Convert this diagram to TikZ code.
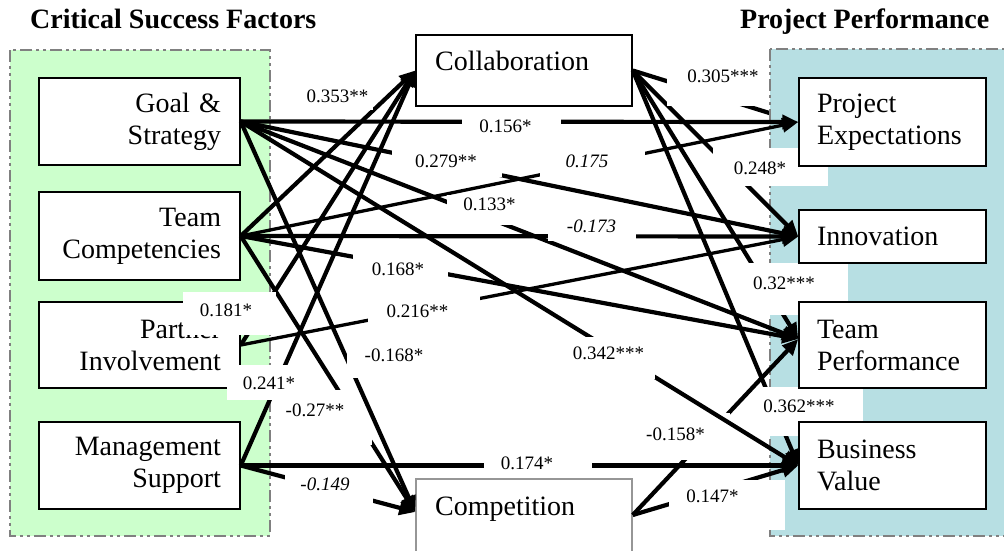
\documentclass[tikz,border=0pt]{standalone}
\usepackage{fontspec}
\setmainfont{Liberation Serif}
\usetikzlibrary{arrows.meta}
\definecolor{grpgreen}{RGB}{204,255,204}
\definecolor{grpblue}{RGB}{183,223,227}
\definecolor{grpgray}{RGB}{128,128,128}
\definecolor{compgray}{RGB}{150,150,150}
\newcommand\boxfont{\fontsize{28}{32}\selectfont}
\newcommand\labfont{\fontsize{19}{22}\selectfont}
\newcommand\titfont{\fontsize{28}{32}\selectfont\bfseries}
\tikzset{
  box/.style={draw=black, line width=1.5pt, fill=white, font=\boxfont, inner sep=0pt},
  lbx/.style={box, align=right, inner xsep=19pt, text width=163pt, minimum width=201pt},
  rbx/.style={box, align=left, inner xsep=18pt, text width=151pt, minimum width=187pt},
  lbox/.style={draw=none, fill=white, inner sep=0pt},
  ltext/.style={font=\labfont, inner sep=0pt},
  itext/.style={font=\labfont\itshape, inner sep=0pt},
  arr/.style={line width=4.2pt, -{Triangle[length=16pt,width=14pt]}},
  arrthin/.style={arr, line width=3.3pt},
  grp/.style={draw=grpgray, line width=2.5pt, dash pattern=on 12pt off 4pt on 3pt off 4pt on 3pt off 4pt},
}
\begin{document}
\begin{tikzpicture}[x=1pt,y=-1pt]
\useasboundingbox (0,0) rectangle (1004,550);
% titles
\node[anchor=base west, font=\titfont, inner sep=0pt] (tl) at (30,28) {Critical Success Factors};
\node[anchor=base west, font=\titfont, inner sep=0pt] (tr) at (740,28) {Project Performance};
% left group
\draw[grp, fill=grpgreen] (10,50) rectangle (270,536);
% anchors of the outcome boxes (drawn on top at the end)
\path (892.5,122) node[rbx, minimum height=88pt, draw=none, fill=none, text opacity=0] (pe) {Project\\Expectations};
\path (892.5,236.5) node[rbx, minimum height=53pt, draw=none, fill=none, text opacity=0] (innov) {Innovation};
\path (892.5,345) node[rbx, minimum height=86pt, draw=none, fill=none, text opacity=0] (tp) {Team\\Performance};
\path (892.5,465.5) node[rbx, minimum height=87pt, draw=none, fill=none, text opacity=0] (bv) {Business\\Value};
% collaboration box
\node[box, minimum width=216pt, minimum height=71pt] (collab) at (524,70.5) {};
\node[anchor=base west, font=\boxfont, inner sep=0pt] (collabtxt) at (435,70) {Collaboration};
% edge under the blue group
\draw[arr] (collab.east) -- (pe.west);
% right group
\draw[grp, fill=grpblue] (770,49) rectangle (1012,536);
% left boxes
\node[lbx, minimum height=87pt] (goal) at (139.5,121.5) {Goal \&\\Strategy};
\node[lbx, minimum height=88pt] (team) at (139.5,236) {Team\\Competencies};
\node[lbx, minimum height=86pt] (partner) at (139.5,345) {Partner\\Involvement};
\node[lbx, minimum height=87pt] (mgmt) at (139.5,465.5) {Management\\Support};
% competition box
\node[box, draw=compgray, minimum width=216pt, minimum height=82pt] (comp) at (524,520) {};
\node[anchor=base west, font=\boxfont, inner sep=0pt] (comptxt) at (435,515) {Competition};
% edges A
\draw[arr] (goal.east) -- (pe.west);
\draw[arr] (goal.east) -- (innov.west);
\draw[arr] (goal.east) -- ([yshift=6pt]tp.west);
\draw[arr] (team.east) -- (collab.west);
\draw[arrthin] (team.east) -- (pe.west);
\draw[arr] (team.east) -- (innov.west);
\draw[arr] (team.east) -- ([yshift=6pt]tp.west);
\draw[arr] (team.east) -- ([yshift=8pt]comp.west);
\draw[arr] (partner.east) -- (collab.west);
\draw[arrthin] (partner.east) -- (innov.west);
\draw[arr] (mgmt.east) -- (collab.west);
\draw[arr] (mgmt.east) -- ([yshift=8pt]comp.west);
\draw[arr] (mgmt.east) -- (bv.west);
\draw[arr] (collab.east) -- (innov.west);
\draw[arr] (collab.east) -- ([yshift=6pt]tp.west);
\draw[arr] (collab.east) -- (bv.west);
\draw[arr] ([yshift=5pt]comp.east) -- ([yshift=6pt]tp.west);
\draw[arr] ([yshift=5pt]comp.east) -- (bv.west);
% labels A
\node[lbox, minimum width=99pt, minimum height=32pt, label={[ltext, xshift=-6pt, yshift=-0.5pt]center:0.156*}] (l156) at (511.5,126) {};
\node[lbox, minimum width=110pt, minimum height=31pt, label={[ltext, xshift=-1pt]center:0.279**}] (l279) at (447,161.5) {};
\node[lbox, minimum width=105pt, minimum height=30pt, label={[itext, xshift=-5.5pt, yshift=0.5pt]center:0.175}] (l175) at (592.5,162) {};
\node[lbox, minimum width=83pt, minimum height=30pt, label={[ltext, xshift=1pt, yshift=5.5pt]center:0.133*}] (l133) at (488.5,210) {};
\node[lbox, minimum width=88pt, minimum height=28pt, label={[itext, xshift=-0.5pt, yshift=0.5pt]center:-0.173}] (l173) at (592,227) {};
\node[lbox, minimum width=95pt, minimum height=31pt, label={[ltext, xshift=-2.5pt]center:0.168*}] (l168) at (400.5,269.5) {};
\node[lbox, minimum width=112pt, minimum height=35pt, label={[ltext, xshift=-6.5pt, yshift=-1pt]center:0.216**}] (l216) at (424,310.5) {};
\node[lbox, minimum width=95pt, minimum height=55pt, label={[ltext, xshift=-9.5pt, yshift=7pt]center:-0.27**}] (l27) at (324.5,417.5) {};
\node[lbox, minimum width=93pt, minimum height=43pt, label={[ltext, xshift=-3.5pt, yshift=3pt]center:0.181*}] (l181) at (229.5,313.5) {};
\node[lbox, minimum width=78pt, minimum height=35pt, label={[ltext, xshift=3pt, yshift=-1pt]center:0.241*}] (l241) at (266,382.5) {};
\node[lbox, minimum width=88pt, minimum height=36pt, label={[itext, xshift=-4pt, yshift=2.5pt]center:-0.149}] (l149) at (329,487) {};
\node[lbox, minimum width=108pt, minimum height=28pt, label={[ltext, xshift=-11pt, yshift=0.5pt]center:0.174*}] (l174) at (538,464) {};
\node[lbox, minimum width=90pt, minimum height=47pt, label={[ltext, xshift=-9.5pt, yshift=2pt]center:-0.158*}] (l158) at (685,436.5) {};
\node[lbox, minimum width=99pt, minimum height=48pt, label={[ltext, xshift=6.5pt, yshift=5.5pt]center:0.305***}] (l305) at (716.5,82) {};
\node[lbox, minimum width=115pt, minimum height=38pt, label={[ltext, xshift=-10.5pt, yshift=-1.5pt]center:0.248*}] (l248) at (770.5,167) {};
\node[lbox, minimum width=103pt, minimum height=52pt, label={[ltext, xshift=-12.5pt, yshift=5.5pt]center:0.32***}] (l32) at (796.5,289) {};
\node[lbox, minimum width=107pt, minimum height=49pt, label={[ltext, xshift=-10.5pt, yshift=5pt]center:0.362***}] (l362) at (809.5,411.5) {};
\node[lbox, minimum width=116pt, minimum height=50pt, label={[ltext, xshift=-14.5pt, yshift=9pt]center:0.147*}] (l147) at (727,505) {};
\node[lbox, minimum width=70pt, minimum height=26pt, label={[ltext]center:0.353**}] (l353) at (337.5,96.5) {};
% edges B
\draw[arr] (goal.east) -- ([yshift=8pt]comp.west);
\draw[arr] (goal.east) -- (bv.west);
% labels B
\node[lbox, minimum width=94pt, minimum height=41pt, label={[ltext, yshift=2pt]center:-0.168*}] (l168n) at (394,357.5) {};
\node[lbox, minimum width=95pt, minimum height=42pt, label={[ltext, xshift=1pt, yshift=4.5pt]center:0.342***}] (l342) at (607.5,358) {};
% outcome boxes drawn on top
\node[rbx, minimum height=88pt] (pebox) at (pe) {Project\\Expectations};
\node[rbx, minimum height=53pt] (innovbox) at (innov) {Innovation};
\node[rbx, minimum height=86pt] (tpbox) at (tp) {Team\\Performance};
\node[rbx, minimum height=87pt] (bvbox) at (bv) {Business\\Value};
\end{tikzpicture}
\end{document}
